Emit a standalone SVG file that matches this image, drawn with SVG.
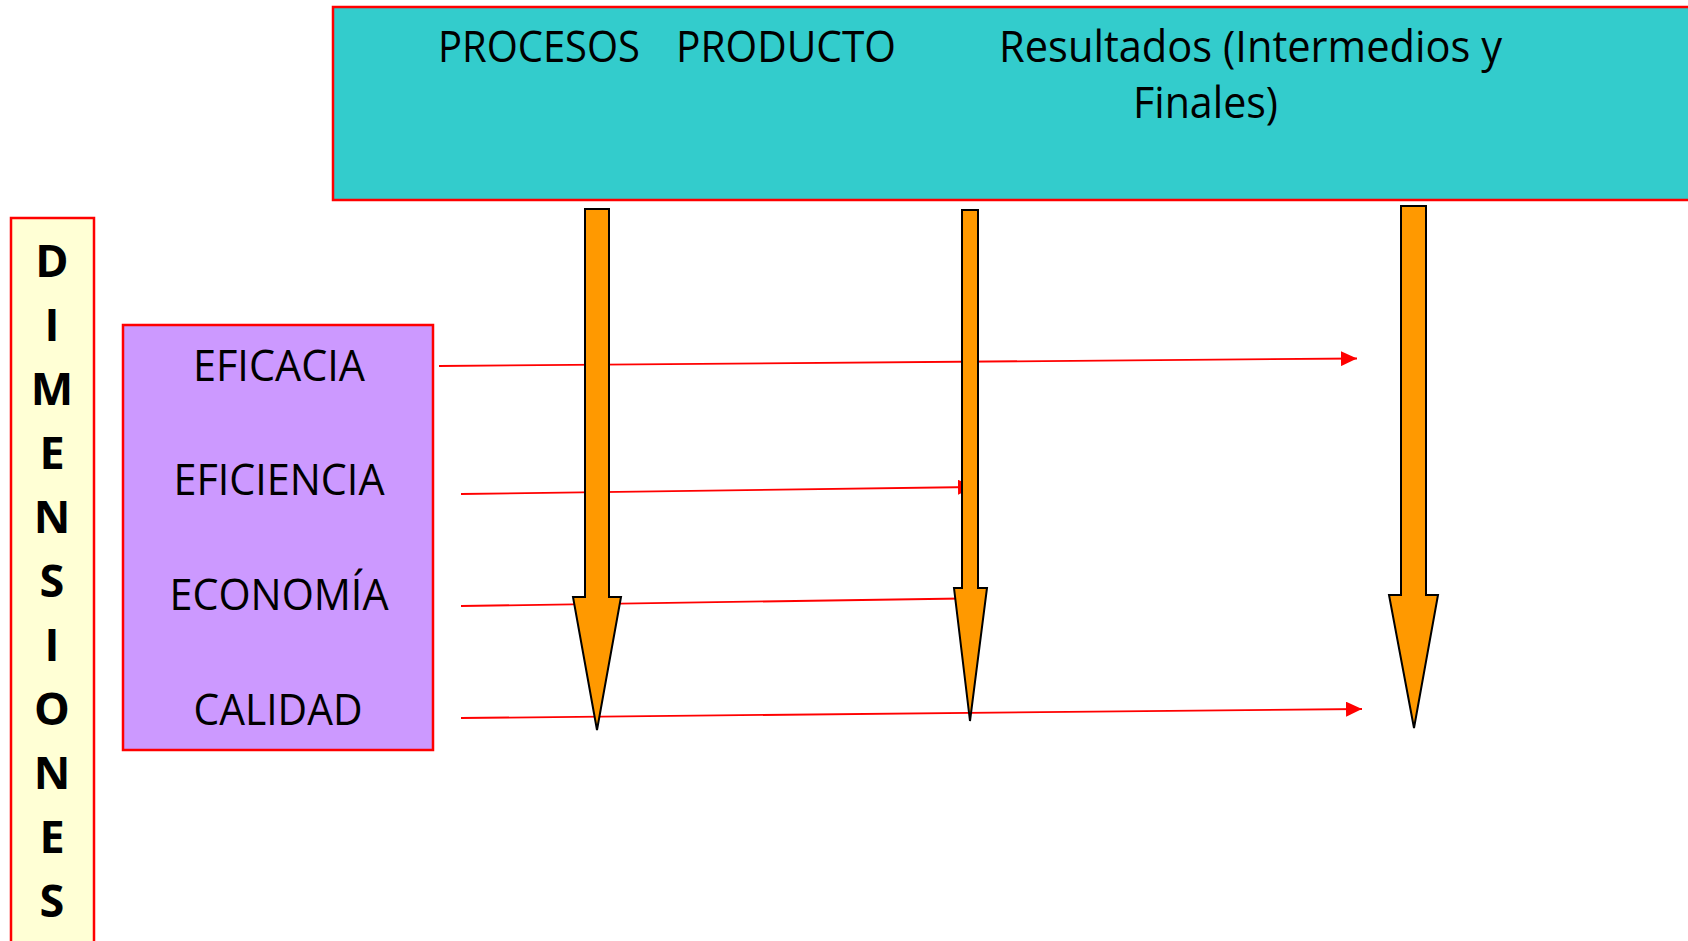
<svg xmlns="http://www.w3.org/2000/svg" width="1688" height="941" viewBox="0 0 1688 941">
<style>
.box{stroke:#FF0000;stroke-width:2.5}
.hdr{font-family:"Open Sans","Liberation Sans",sans-serif;font-size:44px;fill:#000}
.dim{font-family:"Open Sans","Liberation Sans",sans-serif;font-size:45px;font-weight:bold;fill:#000;text-anchor:middle}
.lbl{font-family:"Open Sans","Liberation Sans",sans-serif;font-size:44px;fill:#000;text-anchor:middle}
.conn{stroke:#FF0000;stroke-width:1.8;fill:none}
.big{fill:#FF9900;stroke:#000;stroke-width:2;stroke-linejoin:miter}
</style>
<defs>
<marker id="rh" markerUnits="userSpaceOnUse" markerWidth="16" markerHeight="15" refX="16" refY="7.5" orient="auto">
<path d="M0,0 L16,7.5 L0,15 z" fill="#FF0000"/>
</marker>
</defs>
<rect width="1688" height="941" fill="#FFFFFF"/>
<g id="header">
<rect class="box" x="333" y="7" width="1400" height="193" fill="#33CCCC"/>
<text class="hdr" x="438" y="62" textLength="202" lengthAdjust="spacingAndGlyphs">PROCESOS</text>
<text class="hdr" x="676" y="62" textLength="220" lengthAdjust="spacingAndGlyphs">PRODUCTO</text>
<text class="hdr" x="999" y="62" textLength="503" lengthAdjust="spacingAndGlyphs">Resultados (Intermedios y</text>
<text class="hdr" x="1133" y="118" textLength="145" lengthAdjust="spacingAndGlyphs">Finales)</text>
</g>
<g id="dimensiones">
<rect class="box" x="11" y="218" width="83" height="800" fill="#FFFFD5"/>
<text class="dim" x="52" y="277">D</text>
<text class="dim" x="52" y="341">I</text>
<text class="dim" x="52" y="405">M</text>
<text class="dim" x="52" y="469">E</text>
<text class="dim" x="52" y="533">N</text>
<text class="dim" x="52" y="597">S</text>
<text class="dim" x="52" y="661">I</text>
<text class="dim" x="52" y="725">O</text>
<text class="dim" x="52" y="789">N</text>
<text class="dim" x="52" y="853">E</text>
<text class="dim" x="52" y="917">S</text>
</g>
<g id="criterios">
<rect class="box" x="123" y="325" width="310" height="425" fill="#CC99FF"/>
<text class="lbl" x="279" y="381" textLength="172" lengthAdjust="spacingAndGlyphs">EFICACIA</text>
<text class="lbl" x="279" y="495" textLength="211" lengthAdjust="spacingAndGlyphs">EFICIENCIA</text>
<text class="lbl" x="279" y="610" textLength="219" lengthAdjust="spacingAndGlyphs">ECONOMÍA</text>
<text class="lbl" x="278" y="725" textLength="169" lengthAdjust="spacingAndGlyphs">CALIDAD</text>
</g>
<g id="connectors">
<line class="conn" x1="439" y1="366" x2="1357" y2="358.5" marker-end="url(#rh)"/>
<line class="conn" x1="461" y1="494" x2="974" y2="487" marker-end="url(#rh)"/>
<line class="conn" x1="461" y1="606" x2="962" y2="598.5"/>
<line class="conn" x1="461" y1="718" x2="1362" y2="709" marker-end="url(#rh)"/>
</g>
<g id="arrow-procesos">
<polygon class="big" points="585,209 609,209 609,597 621,597 597,730 573,597 585,597"/>
</g>
<g id="arrow-producto">
<polygon class="big" points="962,210 978,210 978,588 987,588 970,721 954,588 962,588"/>
</g>
<g id="arrow-resultados">
<polygon class="big" points="1401,206 1426,206 1426,595 1438,595 1414,728 1389,595 1401,595"/>
</g>
</svg>
